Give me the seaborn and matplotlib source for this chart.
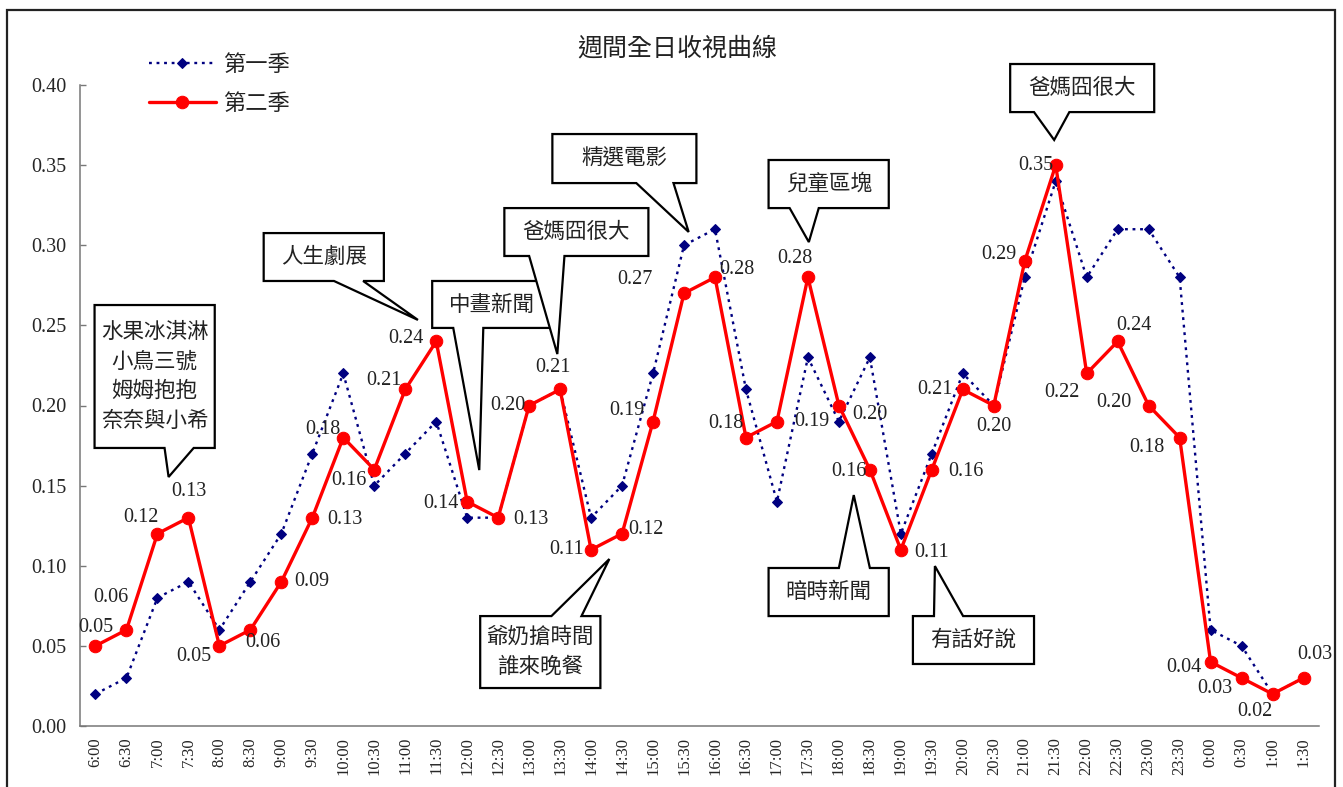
import numpy as np
import pandas as pd
import matplotlib
matplotlib.use("Agg")
import matplotlib.pyplot as plt
from matplotlib.patches import Polygon, Rectangle
import seaborn as sns

# ---- data -------------------------------------------------------------
time_slots = ["6:00", "6:30", "7:00", "7:30", "8:00", "8:30", "9:00", "9:30",
              "10:00", "10:30", "11:00", "11:30", "12:00", "12:30", "13:00", "13:30",
              "14:00", "14:30", "15:00", "15:30", "16:00", "16:30", "17:00", "17:30",
              "18:00", "18:30", "19:00", "19:30", "20:00", "20:30", "21:00", "21:30",
              "22:00", "22:30", "23:00", "23:30", "0:00", "0:30", "1:00", "1:30"]

season1 = [0.02, 0.03, 0.08, 0.09, 0.06, 0.09, 0.12, 0.17,
           0.22, 0.15, 0.17, 0.19, 0.13, 0.13, 0.20, 0.21,
           0.13, 0.15, 0.22, 0.30, 0.31, 0.21, 0.14, 0.23,
           0.19, 0.23, 0.12, 0.17, 0.22, 0.20, 0.28, 0.34,
           0.28, 0.31, 0.31, 0.28, 0.06, 0.05, 0.02, 0.03]

season2 = [0.05, 0.06, 0.12, 0.13, 0.05, 0.06, 0.09, 0.13,
           0.18, 0.16, 0.21, 0.24, 0.14, 0.13, 0.20, 0.21,
           0.11, 0.12, 0.19, 0.27, 0.28, 0.18, 0.19, 0.28,
           0.20, 0.16, 0.11, 0.16, 0.21, 0.20, 0.29, 0.35,
           0.22, 0.24, 0.20, 0.18, 0.04, 0.03, 0.02, 0.03]

series_names = ["第一季", "第二季"]
title_text = "週間全日收視曲線"

# program callouts: text, box (x0, x1, y0, y1), pointer (base left, base right, tip), side
callouts = [
    ("水果冰淇淋\n小鳥三號\n姆姆抱抱\n奈奈與小希", (-0.03, 3.85, 0.1735, 0.2627), (2.23, 3.17, (2.36, 0.1554)), "bottom"),
    ("人生劇展", (5.43, 9.31, 0.2777, 0.3076), (7.70, 8.64, (10.41, 0.2534)), "bottom"),
    ("中晝新聞", (10.87, 14.72, 0.2484, 0.2777), (11.55, 12.52, (12.39, 0.1597)), "bottom"),
    ("爸媽囧很大", (13.20, 17.85, 0.2933, 0.3232), (14.00, 15.14, (14.91, 0.2321)), "bottom"),
    ("精選電影", (14.75, 19.40, 0.3388, 0.3694), (17.46, 18.66, (19.15, 0.3083)), "bottom"),
    ("兒童區塊", (21.73, 25.61, 0.3232, 0.3532), (22.41, 23.35, (23.03, 0.3020)), "bottom"),
    ("爸媽囧很大", (29.53, 34.18, 0.3831, 0.4131), (30.30, 31.44, (30.95, 0.3657)), "bottom"),
    ("爺奶搶時間\n誰來晚餐", (12.42, 16.30, 0.0237, 0.0686), (14.72, 15.69, (16.59, 0.1042)), "top"),
    ("暗時新聞", (21.73, 25.61, 0.0686, 0.0986), (24.00, 25.00, (24.48, 0.1441)), "top"),
    ("有話好說", (26.39, 30.30, 0.0387, 0.0686), (27.07, 28.01, (27.10, 0.0998)), "top"),
]

# value-label offsets (pixels, right / up) for the second-season points
label_offsets = [(0, 18), (-16, 32), (-17, 16), (0, 26), (-26, -11), (13, -13), (30, 0), (33, -2),
                 (-20, 8), (-25, -11), (-21, 9), (-30, 3), (-26, -2), (33, -2), (-21, 0), (-7, 22),
                 (-25, 0), (24, 4), (-26, 11), (-49, 14), (22, 8), (-20, 14), (35, 0), (-13, 19),
                 (31, -9), (-21, -2), (31, -3), (34, -2), (-28, 0), (0, -21), (-26, 7), (-20, 0),
                 (-25, -19), (16, 16), (-35, 3), (-33, -10), (-27, -6), (-27, -11), (-18, -18), (11, 23)]

# ---- styling ----------------------------------------------------------
sns.set_theme(style="white")
plt.rcParams["font.family"] = ["Liberation Serif", "Noto Sans CJK TC"]
CJK = ["Noto Sans CJK TC"]

W, H = 1343, 787
fig = plt.figure(figsize=(W / 100, H / 100), dpi=100)
ax = fig.add_axes([80 / W, 1 - 726 / H, (1319 - 80) / W, (726 - 85) / H])

pos = np.arange(len(time_slots))
df = pd.DataFrame({"pos": pos, "s1": season1, "s2": season2})

sns.lineplot(data=df, x="pos", y="s1", ax=ax, color="#000080", linewidth=1.7,
             linestyle=(0, (1.2, 2.0)), marker="D", markersize=5.5,
             markeredgecolor="#000080", label=series_names[0], zorder=3)
sns.lineplot(data=df, x="pos", y="s2", ax=ax, color="#FF0000", linewidth=2.4,
             marker="o", markersize=9, markeredgecolor="#FF0000",
             label=series_names[1], zorder=4)

# value labels for the second season
for x, v, (dx, dy) in zip(pos, season2, label_offsets):
    ax.annotate(f"{v:.2f}", (x, v), xytext=(dx, dy), textcoords="offset pixels",
                ha="center", va="center", fontsize=14.5, color="#222222", zorder=6)

# speech-bubble callouts
for text, (x0, x1, y0, y1), (bl, br, tip), side in callouts:
    if side == "bottom":
        pts = [(x0, y1), (x1, y1), (x1, y0), (br, y0), tip, (bl, y0), (x0, y0)]
    else:
        pts = [(x0, y0), (x1, y0), (x1, y1), (br, y1), tip, (bl, y1), (x0, y1)]
    ax.add_patch(Polygon(pts, closed=True, facecolor="white", edgecolor="black",
                         linewidth=1.6, zorder=7, clip_on=False, joinstyle="miter"))
    ax.text((x0 + x1) / 2, (y0 + y1) / 2, text, ha="center", va="center",
            fontsize=15.5, family=CJK, color="#222222", linespacing=1.45,
            zorder=8, clip_on=False)

# axes
ax.set_xlim(-0.5, len(time_slots) - 0.5)
ax.set_ylim(0, 0.40)
yt = np.arange(0, 0.401, 0.05)
ax.set_yticks(yt)
ax.set_yticklabels([f"{t:.2f}" for t in yt], fontsize=14.5)
ax.set_xticks(np.arange(-0.5, len(time_slots), 1.0))
ax.set_xticklabels([])
ax.set_xticks(pos, time_slots, minor=True)
ax.tick_params(axis="x", which="minor", length=0, labelsize=12,
               labelrotation=90, pad=8)
ax.tick_params(axis="x", which="major", direction="in", length=4.5, width=1,
               color="#777777")
ax.tick_params(axis="y", direction="in", length=4.5, width=1, color="#777777",
               pad=10, left=True)
ax.set_xlabel("")
ax.set_ylabel("")
for s in ["top", "right"]:
    ax.spines[s].set_visible(False)
for s in ["left", "bottom"]:
    ax.spines[s].set_color("#777777")
    ax.spines[s].set_linewidth(1.1)
ax.grid(False)

leg = ax.legend(loc="upper left", bbox_to_anchor=(149 / W, 1 - 53 / H),
                bbox_transform=fig.transFigure, frameon=False, borderpad=0,
                borderaxespad=0, handlelength=3.0, handletextpad=0.35,
                labelspacing=0.7, prop={"family": CJK, "size": 16})
for t in leg.get_texts():
    t.set_color("#222222")

fig.text(677 / W, 1 - 48 / H, title_text, ha="center", va="center",
         fontsize=18, family=CJK, color="#222222")

# outer frame
fig.patches.append(Rectangle((7 / W, -0.05), (1335 - 7) / W, 1.05 - 10 / H,
                             transform=fig.transFigure, fill=False,
                             edgecolor="#222222", linewidth=1.6))

fig.savefig("out.png", dpi=100, facecolor="white")
